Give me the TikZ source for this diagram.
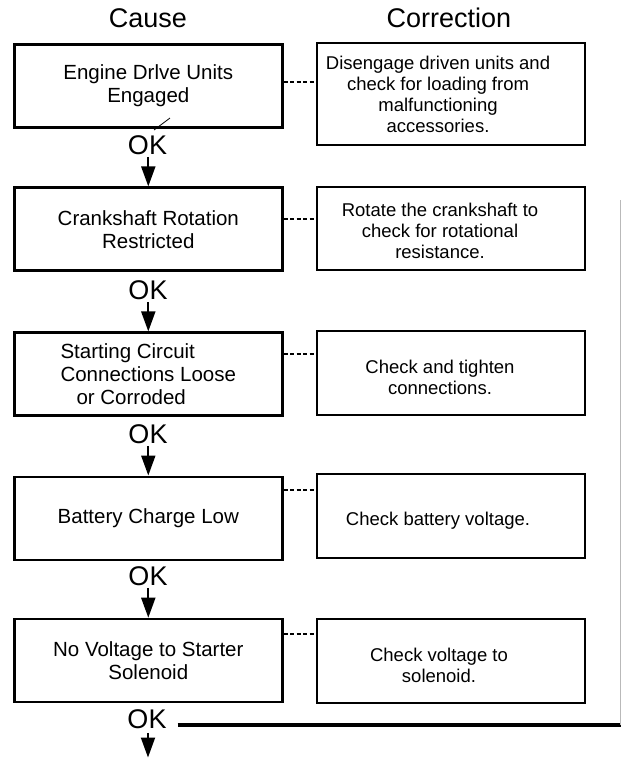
\documentclass[tikz,border=0pt]{standalone}
\usepackage{fontspec}
\setmainfont{Liberation Sans}
\usetikzlibrary{arrows.meta,calc}
\begin{document}
\begin{tikzpicture}[x=1pt,y=-1pt,
  causebox/.style={draw, line width=2.6pt, minimum width=268pt, minimum height=83pt, inner sep=0pt, align=center, font=\fontsize{20.5}{23}\selectfont},
  corrbox/.style={draw, line width=2.2pt, minimum width=268pt, inner sep=0pt},
  corrtext/.style={inner sep=0pt, align=center, font=\fontsize{18.5}{21}\selectfont},
  headtext/.style={inner sep=0pt, font=\fontsize{27}{30}\selectfont},
  oktext/.style={inner sep=0pt, font=\fontsize{27}{30}\selectfont},
  flow/.style={line width=2pt, shorten <=2pt, -{Triangle[length=20pt,width=14pt]}},
  link/.style={line width=1.5pt, dash pattern=on 4pt off 2.5pt},
  retline/.style={line width=3.5pt},
  faint/.style={gray!55, line width=0.8pt}]
\useasboundingbox[fill=white] (0,0) rectangle (621,758);

% headings
\node[headtext] (hcause) at (148,18) {Cause};
\node[headtext] (hcorr) at (449,18) {Correction};

% cause boxes
\node[causebox] (b1) at (148.3,85.8) {Engine Drlve Units\\Engaged};
\node[causebox] (b2) at (148.3,229.2) {Crankshaft Rotation\\Restricted};
\node[causebox, align=left] (b3) at (148.3,374.2) {Starting Circuit\\Connections Loose\\\hspace*{16pt}or Corroded};
\node[causebox] (b4) at (148.3,518.3) {Battery Charge Low};
\node[causebox] (b5) at (148.3,660.5) {No Voltage to Starter\\Solenoid};

% correction boxes
\node[corrbox, minimum height=102pt] (c1) at (451,93.8) {};
\node[corrbox, minimum height=83pt] (c2) at (451,228.5) {};
\node[corrbox, minimum height=84pt] (c3) at (451,373) {};
\node[corrbox, minimum height=84pt] (c4) at (451,516) {};
\node[corrbox, minimum height=84pt] (c5) at (451,661) {};

\node[corrtext] (c1t) at (438,94) {Disengage driven units and\\check for loading from\\malfunctioning\\accessories.};
\node[corrtext] (c2t) at (440,231) {Rotate the crankshaft to\\check for rotational\\resistance.};
\node[corrtext] (c3t) at (440,377) {Check and tighten\\connections.};
\node[corrtext] (c4t) at (438,520.5) {Check battery voltage.};
\node[corrtext] (c5t) at (439,665) {Check voltage to\\solenoid.};

% dashed links
\coordinate (d1) at (0,82);
\coordinate (d2) at (0,219);
\coordinate (d3) at (0,354);
\coordinate (d4) at (0,490);
\coordinate (d5) at (0,634);
\draw[link] (b1.east |- d1) -- (c1.west |- d1);
\draw[link] (b2.east |- d2) -- (c2.west |- d2);
\draw[link] (b3.east |- d3) -- (c3.west |- d3);
\draw[link] (b4.east |- d4) -- (c4.west |- d4);
\draw[link] (b5.east |- d5) -- (c5.west |- d5);

% OK labels
\node[oktext] (ok1) at (147.5,145) {OK};
\node[oktext] (ok2) at (148,290) {OK};
\node[oktext] (ok3) at (148,434) {OK};
\node[oktext] (ok4) at (148,576) {OK};
\node[oktext] (ok5) at (147,719) {OK};

% flow arrows
\coordinate (fend) at (148,757.5);
\draw[flow] (ok1.south -| b2.north) -- (b2.north);
\draw[flow] (ok2.south -| b3.north) -- (b3.north);
\draw[flow] (ok3.south -| b4.north) -- (b4.north);
\draw[flow] (ok4.south -| b5.north) -- (b5.north);
\draw[flow, shorten <=4pt] (ok5.south -| fend) -- (fend);

% return line
\coordinate (ret) at (621,725);
\coordinate (rtop) at (620,200);
\draw[retline, shorten <=11pt] (ok5.east |- ret) -- (ret);
\draw[faint] (rtop) -- (rtop |- ret);

% small stray mark
\coordinate (s1) at (170,118);
\coordinate (s2) at (154,130);
\draw[line width=0.8pt] (s1) -- (s2);
\end{tikzpicture}
\end{document}
